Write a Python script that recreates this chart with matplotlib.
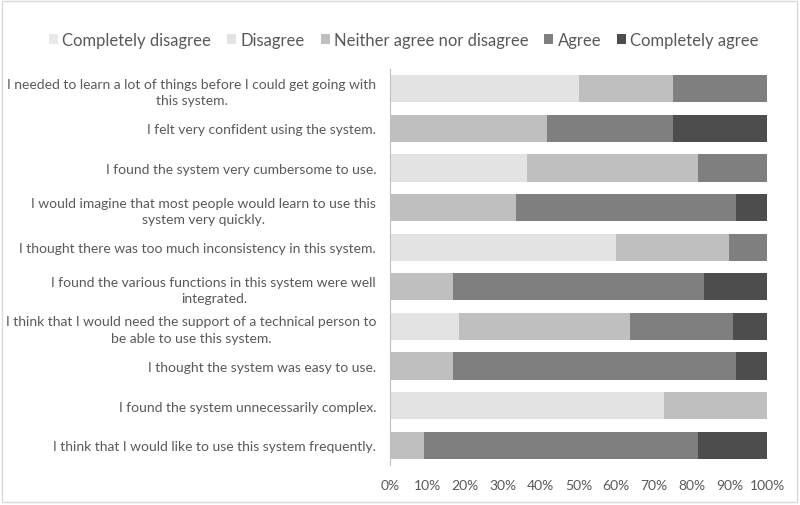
import matplotlib.pyplot as plt
import numpy as np
from matplotlib.patches import Rectangle

plt.rcParams['font.family'] = ['Lato', 'DejaVu Sans']

statements = [
    "I needed to learn a lot of things before I could get going with\nthis system.",
    "I felt very confident using the system.",
    "I found the system very cumbersome to use.",
    "I would imagine that most people would learn to use this\nsystem very quickly.",
    "I thought there was too much inconsistency in this system.",
    "I found the various functions in this system were well\nintegrated.",
    "I think that I would need the support of a technical person to\nbe able to use this system.",
    "I thought the system was easy to use.",
    "I found the system unnecessarily complex.",
    "I think that I would like to use this system frequently.",
]
categories = ["Completely disagree", "Disagree", "Neither agree nor disagree",
              "Agree", "Completely agree"]

# shares per statement (fractions)
completely_disagree = [0, 0, 0, 0, 0, 0, 0, 0, 0, 0]
disagree = [6/12, 0, 4/11, 0, 0.60, 0, 2/11, 0, 8/11, 0]
neither = [3/12, 5/12, 5/11, 4/12, 0.30, 2/12, 5/11, 2/12, 3/11, 1/11]
agree = [3/12, 4/12, 2/11, 7/12, 0.10, 8/12, 3/11, 9/12, 0, 8/11]
completely_agree = [0, 3/12, 0, 1/12, 0, 2/12, 1/11, 1/12, 0, 2/11]

colors = ["#e9e9e9", "#e3e3e3", "#bfbfbf", "#7f7f7f", "#4d4d4d"]
txt = "#595959"

series = [completely_disagree, disagree, neither, agree, completely_agree]

fig = plt.figure(figsize=(8, 5.06), dpi=100)
ax = fig.add_axes([0.4875, 0.079, 0.4713, 0.7827])

y = np.arange(len(statements))[::-1]
left = np.zeros(len(statements))
for name, vals, c in zip(categories, series, colors):
    vals = np.array(vals)
    ax.barh(y, vals, left=left, height=0.69, color=c, label=name)
    left += vals

ax.set_xlim(0, 1)
ax.set_ylim(-0.5, len(statements) - 0.5)
ax.set_xticks(np.linspace(0, 1, 11))
ax.set_xticklabels([f"{int(v)}%" for v in np.linspace(0, 100, 11)], color=txt, fontsize=10)
ax.set_yticks(y)
ax.set_yticklabels(statements, color=txt, fontsize=10, multialignment='center',
                   linespacing=1.45)
ax.tick_params(axis='x', length=0, pad=10)
ax.tick_params(axis='y', length=0, pad=10)
for s in ['top', 'right', 'bottom']:
    ax.spines[s].set_visible(False)
ax.spines['left'].set_color('#bfbfbf')

leg = fig.legend(loc='upper center', bbox_to_anchor=(0.505, 0.965), ncol=5, frameon=False,
                 fontsize=12, handlelength=0.55, handleheight=0.55, handletextpad=0.25,
                 columnspacing=0.95)
for t in leg.get_texts():
    t.set_color(txt)

fig.patches.append(Rectangle((0.003, 0.006), 0.993, 0.99, transform=fig.transFigure,
                             fill=False, edgecolor='#d9d9d9', linewidth=1))

fig.savefig("out.png", dpi=100)
